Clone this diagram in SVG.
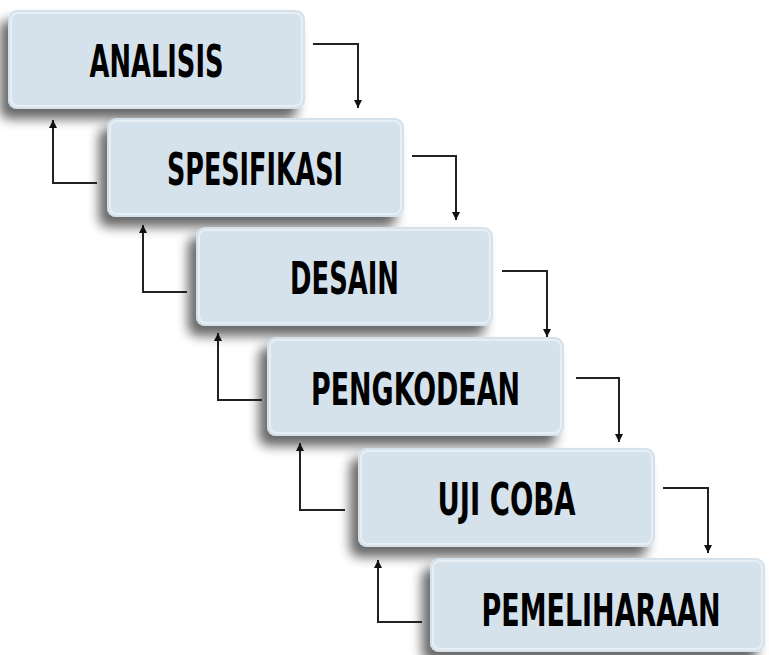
<svg xmlns="http://www.w3.org/2000/svg" width="769" height="655" viewBox="0 0 769 655">
<defs>
<filter id="sh" x="-20%" y="-30%" width="140%" height="170%">
<feGaussianBlur in="SourceAlpha" stdDeviation="6"/>
<feOffset dx="-8" dy="10" result="b"/>
<feComponentTransfer><feFuncA type="linear" slope="0.6"/></feComponentTransfer>
<feMerge><feMergeNode/><feMergeNode in="SourceGraphic"/></feMerge>
</filter>
<marker id="ah" viewBox="0 0 10 10" refX="10" refY="5" markerWidth="8" markerHeight="8" markerUnits="userSpaceOnUse" orient="auto">
<path d="M0,0 L10,5 L0,10 z" fill="#111"/>
</marker>
</defs>
<style>
.box{fill:#d5e2ec;filter:url(#sh)}
.hl{fill:none;stroke:#ffffff;stroke-opacity:0.45;stroke-width:2}
.lbl{font-family:"DejaVu Sans Condensed","DejaVu Sans",sans-serif;font-weight:bold;font-size:32px;fill:#000;text-anchor:middle}
.c{fill:none;stroke:#222;stroke-width:2;marker-end:url(#ah)}
</style>
<rect width="769" height="655" fill="#fff"/>
<g id="analisis">
<rect class="box" x="8" y="10" width="297" height="99" rx="9"/>
<rect class="hl" x="11" y="13" width="291" height="93" rx="7"/>
<text class="lbl" transform="translate(156.5,77) scale(1,1.4)" textLength="134" lengthAdjust="spacingAndGlyphs">ANALISIS</text>
</g>
<g id="spesifikasi">
<rect class="box" x="107" y="118" width="297" height="99" rx="9"/>
<rect class="hl" x="110" y="121" width="291" height="93" rx="7"/>
<text class="lbl" transform="translate(255,185) scale(1,1.4)" textLength="176" lengthAdjust="spacingAndGlyphs">SPESIFIKASI</text>
</g>
<g id="desain">
<rect class="box" x="196" y="227" width="297" height="99" rx="9"/>
<rect class="hl" x="199" y="230" width="291" height="93" rx="7"/>
<text class="lbl" transform="translate(344.5,294) scale(1,1.4)" textLength="109" lengthAdjust="spacingAndGlyphs">DESAIN</text>
</g>
<g id="pengkodean">
<rect class="box" x="267" y="337" width="297" height="99" rx="9"/>
<rect class="hl" x="270" y="340" width="291" height="93" rx="7"/>
<text class="lbl" transform="translate(415.5,405) scale(1,1.4)" textLength="209" lengthAdjust="spacingAndGlyphs">PENGKODEAN</text>
</g>
<g id="ujicoba">
<rect class="box" x="358" y="448" width="297" height="99" rx="9"/>
<rect class="hl" x="361" y="451" width="291" height="93" rx="7"/>
<text class="lbl" transform="translate(506.5,515) scale(1,1.4)" textLength="138" lengthAdjust="spacingAndGlyphs">UJI COBA</text>
</g>
<g id="pemeliharaan">
<rect class="box" x="430" y="558" width="335" height="94" rx="9"/>
<rect class="hl" x="433" y="561" width="329" height="88" rx="7"/>
<text class="lbl" transform="translate(601,626) scale(1,1.4)" textLength="239" lengthAdjust="spacingAndGlyphs">PEMELIHARAAN</text>
</g>
<g id="connectors">
<path class="c" d="M313,44 H358 V108"/>
<path class="c" d="M412,156 H456 V220"/>
<path class="c" d="M502,271 H547 V337"/>
<path class="c" d="M576,378 H619 V442"/>
<path class="c" d="M663,488 H708 V553"/>
<path class="c" d="M97,183 H53 V120"/>
<path class="c" d="M187,292 H143 V225"/>
<path class="c" d="M262,400 H218 V333"/>
<path class="c" d="M345,510 H300 V443"/>
<path class="c" d="M422,622 H378 V560"/>
</g>
</svg>
